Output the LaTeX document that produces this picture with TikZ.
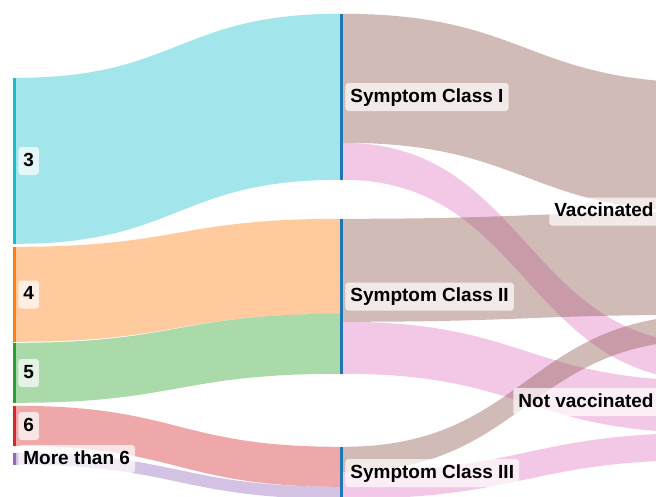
\documentclass[tikz,border=0pt]{standalone}
\usepackage{fontspec}
\setmainfont{Liberation Sans}
\usetikzlibrary{calc}
\definecolor{cCyan}{HTML}{17BECF}
\definecolor{cOrange}{HTML}{FF7F0E}
\definecolor{cGreen}{HTML}{2CA02C}
\definecolor{cRed}{HTML}{D62728}
\definecolor{cPurple}{HTML}{9467BD}
\definecolor{cBrown}{HTML}{8C564B}
\definecolor{cPink}{HTML}{E377C2}
\definecolor{cBlue}{HTML}{1F77B4}
\tikzset{
  bar/.style={rectangle, inner sep=0pt, minimum width=3pt, draw=none},
  lbl/.style={rectangle, rounded corners=3pt, fill=white, fill opacity=0.7, text opacity=1,
    inner xsep=5pt, inner ysep=5pt, text height=14pt, text depth=4pt,
    font=\bfseries\fontsize{19}{21}\selectfont},
  flowfill/.style={fill=#1, fill opacity=0.4}
}
% colour, source node, top offset, bottom offset, target node, top offset, bottom offset
\newcommand\sankeyflow[7]{%
  \coordinate (fa) at ([yshift=-#3pt]#2.north east);
  \coordinate (fb) at ([yshift=-#4pt]#2.north east);
  \coordinate (ta) at ([yshift=-#6pt]#5.north west);
  \coordinate (tb) at ([yshift=-#7pt]#5.north west);
  \coordinate (fm) at ($(fa)!0.5!(ta)$);
  \fill[flowfill=#1] (fa) .. controls (fm|-fa) and (fm|-ta) .. (ta)
    -- (tb) .. controls (fm|-tb) and (fm|-fb) .. (fb) -- cycle;
}
\begin{document}
\begin{tikzpicture}[x=1pt,y=-1pt]
\path[use as bounding box] (0,0) rectangle (656,496);
\fill[white] (0,0) rectangle (656,496);
\clip (0,0) rectangle (656,496);

% node bars
\node[bar, fill=cCyan,   minimum height=166pt] (n3) at (14.5,161) {};
\node[bar, fill=cOrange, minimum height=95pt]  (n4) at (14.5,294.5) {};
\node[bar, fill=cGreen,  minimum height=60pt]  (n5) at (14.5,373) {};
\node[bar, fill=cRed,    minimum height=40pt]  (n6) at (14.5,426) {};
\node[bar, fill=cPurple, minimum height=12pt]  (n7) at (14.5,459) {};
\node[bar, fill=cBlue, minimum height=166pt] (s1) at (341.5,97) {};
\node[bar, fill=cBlue, minimum height=155pt] (s2) at (341.5,296.5) {};
\node[bar, fill=cBlue, minimum height=52pt]  (s3) at (341.5,473) {};
\node[bar, minimum height=257pt] (v1) at (711.5,211.5) {};
\node[bar, minimum height=116pt] (v2) at (711.5,402) {};

% flows
\sankeyflow{cCyan}{n3}{0}{166}{s1}{0}{166}
\sankeyflow{cOrange}{n4}{0}{95}{s2}{0}{95}
\sankeyflow{cGreen}{n5}{0}{60}{s2}{95}{155}
\sankeyflow{cRed}{n6}{0}{40}{s3}{0}{40}
\sankeyflow{cPurple}{n7}{0}{12}{s3}{40}{52}
\sankeyflow{cBrown}{s1}{0}{129}{v1}{0}{129}
\sankeyflow{cPink}{s1}{129}{166}{v2}{0}{37}
\sankeyflow{cBrown}{s2}{0}{103}{v1}{129}{232}
\sankeyflow{cPink}{s2}{103}{155}{v2}{37}{89}
\sankeyflow{cBrown}{s3}{0}{25}{v1}{232}{257}
\sankeyflow{cPink}{s3}{25}{52}{v2}{89}{116}

% labels
\node[lbl, anchor=west] (t3) at ([xshift=2pt]n3.east) {3};
\node[lbl, anchor=west] (t4) at ([xshift=2pt]n4.east) {4};
\node[lbl, anchor=west] (t5) at ([xshift=2pt]n5.east) {5};
\node[lbl, anchor=west] (t6) at ([xshift=2pt]n6.east) {6};
\node[lbl, anchor=west] (t7) at ([xshift=2pt]n7.east) {More than 6};
\node[lbl, anchor=west] (ts1) at ([xshift=2pt]s1.east) {Symptom Class I};
\node[lbl, anchor=west] (ts2) at ([xshift=2pt]s2.east) {Symptom Class II};
\node[lbl, anchor=west] (ts3) at ([xshift=2pt]s3.east) {Symptom Class III};
\node[lbl, anchor=east] (tv1) at ([xshift=-51pt]v1.west) {Vaccinated};
\node[lbl, anchor=east] (tv2) at ([xshift=-51pt]v2.west) {Not vaccinated};
\end{tikzpicture}
\end{document}
